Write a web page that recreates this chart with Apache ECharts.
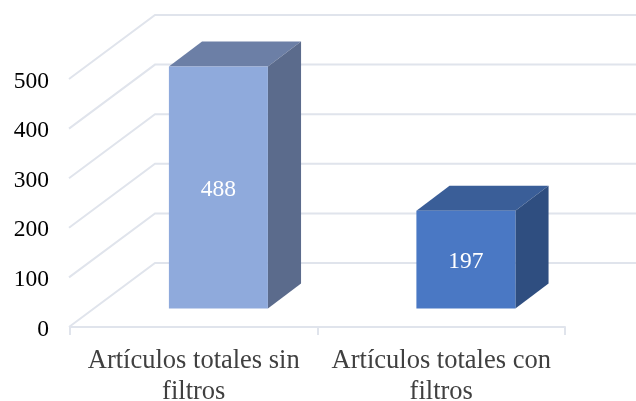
<!DOCTYPE html>
<html>
<head>
<meta charset="utf-8">
<style>
  html, body { margin: 0; padding: 0; background: #fff; }
  #chart { width: 636px; height: 401px; }
</style>
<script src="https://cdn.jsdelivr.net/npm/echarts@6/dist/echarts.min.js"></script>
</head>
<body>
<div id="chart"></div>
<script>
const categories = ['Artículos totales sin\nfiltros', 'Artículos totales con\nfiltros']
const values = [488, 197]
const yTicks = [0, 100, 200, 300, 400, 500]

// caras de cada barra: frente, arriba, lado
const barFaces = [
  { front: '#8FAADC', top: '#6C7FA6', side: '#5B6B8C' },
  { front: '#4A78C4', top: '#3A5E98', side: '#2F4E80' }
]

const fontFamily = '"Liberation Serif", "Times New Roman", serif'
const gridColor = '#E0E4EC'

// perspectiva del pseudo 3D
const wallDx = 85
const wallDy = -64
const barStart = 0.29
const barDepth = 0.39

const chart = echarts.init(document.getElementById('chart'))

const renderWallLine = (params, api) => {
  const [x, y] = api.coord([0, api.value(0)])
  const left = params.coordSys.x
  const backX = left + wallDx
  const backY = y + wallDy
  return {
    type: 'polyline',
    shape: { points: [[left - 1, y], [backX, backY], [backX + params.coordSys.width, backY]] },
    style: { fill: null, stroke: gridColor, lineWidth: 2 }
  }
}

const renderBar = (params, api) => {
  const i = api.value(0)
  const base = api.coord([i, 0])
  const head = api.coord([i, api.value(1)])
  const width = api.size([1, 0])[0] * 0.4
  const x0 = base[0] - width / 2 + wallDx * barStart
  const x1 = x0 + width
  const y0 = base[1] + wallDy * barStart
  const y1 = head[1] + wallDy * barStart
  const dx = wallDx * barDepth
  const dy = wallDy * barDepth
  const faces = barFaces[i]
  return {
    type: 'group',
    children: [
      {
        type: 'polygon',
        shape: { points: [[x0, y1], [x1, y1], [x1 + dx, y1 + dy], [x0 + dx, y1 + dy]] },
        style: { fill: faces.top }
      },
      {
        type: 'polygon',
        shape: { points: [[x1, y1], [x1 + dx, y1 + dy], [x1 + dx, y0 + dy], [x1, y0]] },
        style: { fill: faces.side }
      },
      {
        type: 'rect',
        shape: { x: x0, y: y1, width: width, height: y0 - y1 },
        style: { fill: faces.front }
      },
      {
        type: 'text',
        style: {
          x: (x0 + x1) / 2,
          y: (y0 + y1) / 2 + 2,
          text: String(api.value(1)),
          fill: '#fff',
          font: '23.5px ' + fontFamily,
          textAlign: 'center',
          textVerticalAlign: 'middle'
        }
      }
    ]
  }
}

const option = {
  animation: false,
  grid: { left: 70, right: 71, top: 79, bottom: 74, outerBoundsMode: 'none' },
  xAxis: {
    type: 'category',
    data: categories,
    axisLine: { lineStyle: { color: gridColor, width: 2 } },
    axisTick: { show: true, alignWithLabel: false, length: 8, lineStyle: { color: gridColor, width: 2 } },
    axisLabel: {
      color: '#404040',
      fontFamily: fontFamily,
      fontSize: 26.5,
      lineHeight: 31,
      margin: 19,
      interval: 0
    }
  },
  yAxis: {
    type: 'value',
    min: 0,
    max: 500,
    interval: 100,
    axisLine: { show: false },
    axisTick: { show: false },
    splitLine: { show: false },
    // lineHeight pequeño con top: baja el texto unos 2px respecto al tick
    axisLabel: { color: '#000', fontFamily: fontFamily, fontSize: 23.5, margin: 21, verticalAlign: 'top', lineHeight: 5 }
  },
  series: [
    {
      type: 'custom',
      silent: true,
      clip: false,
      renderItem: renderWallLine,
      encode: { y: 0 },
      data: yTicks.map(v => [v])
    },
    {
      type: 'custom',
      silent: true,
      clip: false,
      renderItem: renderBar,
      encode: { x: 0, y: 1 },
      data: values.map((v, i) => [i, v])
    }
  ]
}

chart.setOption(option)
</script>
</body>
</html>
